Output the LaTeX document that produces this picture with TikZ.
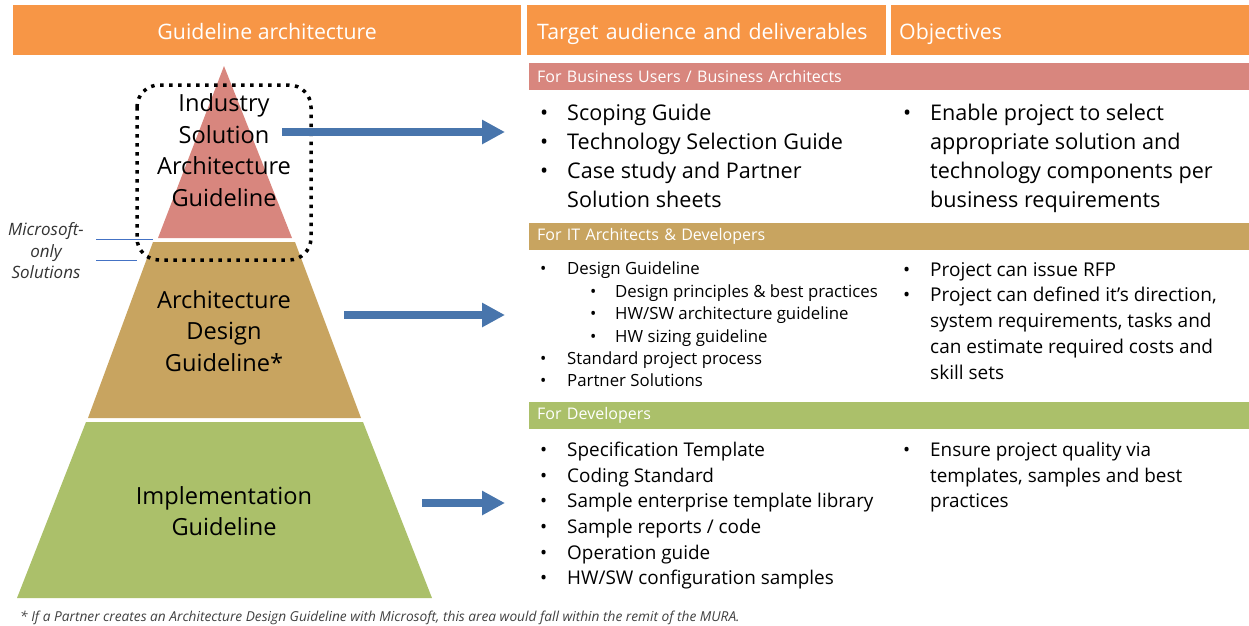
\documentclass[tikz,border=0pt]{standalone}
\usepackage{fontspec}
\setmainfont{Open Sans}
\usetikzlibrary{arrows.meta,positioning}

\definecolor{hdorange}{RGB}{247,150,70}
\definecolor{pinkc}{RGB}{216,134,126}
\definecolor{tanc}{RGB}{200,164,96}
\definecolor{greenc}{RGB}{171,192,106}
\definecolor{arrblue}{RGB}{72,117,172}
\definecolor{lineblue}{RGB}{68,114,196}

\newcommand{\bl}[1]{\makebox[27pt][l]{\textbullet}#1}
\newcommand{\cn}[1]{\hspace*{27pt}#1}
\newcommand{\sbl}[1]{\hspace*{50pt}\makebox[25pt][l]{\textbullet}#1}

\begin{document}
\begin{tikzpicture}[x=1pt,y=-1pt,
  hdr/.style={fill=hdorange, text=white, font=\fontsize{21.3}{25}\selectfont,
    minimum height=50, inner ysep=0, text height=19, text depth=0, anchor=north west},
  band/.style={text=white, font=\fontsize{16}{19}\selectfont, minimum height=27,
    inner ysep=0, inner xsep=8, text width=704, align=left, anchor=north west},
  list/.style={anchor=north west, inner sep=0, align=left},
  lvl/.style={font=\fontsize{23.6}{31.5}\selectfont, align=center, inner sep=0},
  arr/.style={-{Triangle[length=23pt,width=23pt]}, line width=8pt, draw=arrblue},
  msline/.style={draw=lineblue, line width=0.8pt}]
  \useasboundingbox (0,0) rectangle (1249,625);

  % headers
  \node[hdr, minimum width=508] (h1) at (13,5) {Guideline architecture};
  \node[hdr, text width=339, inner xsep=10, align=left] (h2) at (527,5) {Target audience and deliverables};
  \node[hdr, text width=342, inner xsep=8, align=left] (h3) at (891,5) {Objectives};

  % pyramid
  \fill[pinkc]  (224,66) -- (292,238) -- (158,238) -- cycle;
  \fill[tanc]   (153,242) -- (295,242) -- (361,418) -- (88,418) -- cycle;
  \fill[greenc] (86,422) -- (363,422) -- (432,598) -- (17,598) -- cycle;
  \node[lvl] (t1) at (224,150) {Industry\\Solution\\Architecture\\Guideline};
  \node[lvl] (t2) at (224,331) {Architecture\\Design\\Guideline*};
  \node[lvl] (t3) at (224,511) {Implementation\\Guideline};
  \draw[line width=3.5pt, dash pattern=on 3.5pt off 5.5pt, rounded corners=22pt]
    (137,85) rectangle (311,260);

  % microsoft-only label
  \node[font=\itshape\fontsize{17}{21.5}\selectfont, align=center, text=black!80] (ms) at (46,251)
    {Microsoft-\\only\\Solutions};
  \coordinate (m1) at (96,239);
  \coordinate (m2) at (96,260);
  \coordinate (p1) at (153,239);
  \coordinate (p2) at (137,260);
  \draw[msline] (m1) -- (p1);
  \draw[msline] (m2) -- (p2);

  % arrows
  \coordinate (tip) at (505,0);
  \coordinate (s1) at (282,132);
  \coordinate (s2) at (344,315);
  \coordinate (s3) at (422,503);
  \draw[arr] (s1) -- (s1 -| tip);
  \draw[arr] (s2) -- (s2 -| tip);
  \draw[arr] (s3) -- (s3 -| tip);

  % audience bands
  \node[band, fill=pinkc]  (b1) at (529,63)  {For Business Users / Business Architects};
  \node[band, fill=tanc]   (b2) at (529,223) {For IT Architects \& Developers};
  \node[band, fill=greenc] (b3) at (529,402) {For Developers};

  % deliverables
  \node[list, font=\fontsize{21.6}{29}\selectfont] (l1) at (540,104)
    {\bl{Scoping Guide}\\ \bl{Technology Selection Guide}\\ \bl{Case study and Partner}\\ \cn{Solution sheets}};
  \node[list, font=\fontsize{16.8}{22.4}\selectfont] (l2) at (540,262)
    {\bl{Design Guideline}\\ \sbl{Design principles \& best practices}\\ \sbl{HW/SW architecture guideline}\\
     \sbl{HW sizing guideline}\\ \bl{Standard project process}\\ \bl{Partner Solutions}};
  \node[list, font=\fontsize{18.9}{25.6}\selectfont] (l3) at (540,442)
    {\bl{Specification Template}\\ \bl{Coding Standard}\\ \bl{Sample enterprise template library}\\
     \bl{Sample reports / code}\\ \bl{Operation guide}\\ \bl{HW/SW configuration samples}};

  % objectives
  \node[list, font=\fontsize{21.6}{29}\selectfont] (o1) at (903,104)
    {\bl{Enable project to select}\\ \cn{appropriate solution and}\\ \cn{technology components per}\\ \cn{business requirements}};
  \node[list, font=\fontsize{19}{25.8}\selectfont] (o2) at (903,262)
    {\bl{Project can issue RFP}\\ \bl{Project can defined it’s direction,}\\ \cn{system requirements, tasks and}\\
     \cn{can estimate required costs and}\\ \cn{skill sets}};
  \node[list, font=\fontsize{18.9}{25.6}\selectfont] (o3) at (903,442)
    {\bl{Ensure project quality via}\\ \cn{templates, samples and best}\\ \cn{practices}};

  % footnote
  \node[anchor=base west, inner sep=0, font=\itshape\fontsize{13.7}{16}\selectfont, text=black!75] (fn) at (20,621)
    {* If a Partner creates an Architecture Design Guideline with Microsoft, this area would fall within the remit of the MURA.};
\end{tikzpicture}
\end{document}
